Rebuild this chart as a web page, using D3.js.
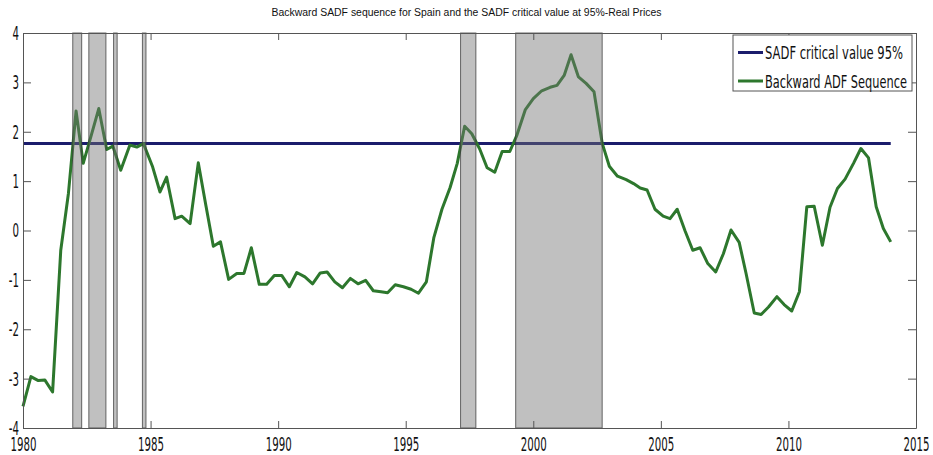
<!DOCTYPE html>
<html>
<head>
<meta charset="utf-8">
<script src="https://cdn.jsdelivr.net/npm/d3@7"></script>
<style>
  html, body { margin: 0; padding: 0; background: #fff; }
  svg { display: block; }
  .lbl { font-family: "Liberation Sans Narrow", "DejaVu Sans Condensed", "Liberation Sans", sans-serif; }
</style>
</head>
<body>
<div id="chart"></div>
<script>
var title = "Backward SADF sequence for Spain and the SADF critical value at 95%-Real Prices";

// observation dates (decimal years) and backward ADF values
var dates = [
  1980.00, 1980.31, 1980.60, 1980.86, 1981.16, 1981.48, 1981.78, 1982.08, 1982.36, 1982.65,
  1982.97, 1983.28, 1983.52, 1983.83, 1984.19, 1984.46, 1984.72, 1985.08, 1985.37, 1985.63,
  1985.96, 1986.22, 1986.55, 1986.87, 1987.17, 1987.46, 1987.74, 1988.06, 1988.38, 1988.66,
  1988.95, 1989.26, 1989.55, 1989.85, 1990.14, 1990.44, 1990.73, 1991.05, 1991.35, 1991.65,
  1991.92, 1992.22, 1992.52, 1992.83, 1993.13, 1993.43, 1993.73, 1994.03, 1994.29, 1994.59,
  1994.91, 1995.21, 1995.50, 1995.81, 1996.10, 1996.42, 1996.74, 1997.02, 1997.31, 1997.59,
  1997.90, 1998.19, 1998.49, 1998.78, 1999.08, 1999.35, 1999.69, 2000.00, 2000.33, 2000.66,
  2000.93, 2001.21, 2001.48, 2001.77, 2002.07, 2002.38, 2002.70, 2002.98, 2003.30, 2003.64,
  2003.93, 2004.19, 2004.46, 2004.77, 2005.09, 2005.36, 2005.64, 2005.95, 2006.25, 2006.54,
  2006.84, 2007.15, 2007.45, 2007.75, 2008.07, 2008.34, 2008.66, 2008.93, 2009.22, 2009.55,
  2009.83, 2010.13, 2010.43, 2010.72, 2011.01, 2011.33, 2011.63, 2011.92, 2012.22, 2012.55,
  2012.84, 2013.14, 2013.44, 2013.72, 2014.01
];
var badf = [
  -3.56, -2.96, -3.04, -3.03, -3.27, -0.40, 0.75, 2.42, 1.36, 1.88,
  2.47, 1.64, 1.71, 1.22, 1.73, 1.69, 1.76, 1.29, 0.78, 1.08,
  0.24, 0.29, 0.14, 1.37, 0.50, -0.32, -0.23, -0.99, -0.87, -0.87,
  -0.35, -1.09, -1.09, -0.91, -0.91, -1.14, -0.85, -0.94, -1.08, -0.86,
  -0.84, -1.04, -1.16, -0.97, -1.08, -1.01, -1.22, -1.24, -1.26, -1.10,
  -1.14, -1.19, -1.27, -1.04, -0.15, 0.43, 0.87, 1.36, 2.11, 1.96,
  1.65, 1.27, 1.18, 1.60, 1.60, 1.92, 2.45, 2.67, 2.83, 2.90,
  2.94, 3.14, 3.56, 3.11, 2.98, 2.81, 1.77, 1.30, 1.10, 1.03,
  0.95, 0.86, 0.82, 0.43, 0.29, 0.24, 0.43, -0.01, -0.40, -0.35,
  -0.67, -0.84, -0.47, 0.01, -0.24, -0.87, -1.67, -1.70, -1.55, -1.34,
  -1.50, -1.63, -1.24, 0.48, 0.49, -0.30, 0.47, 0.85, 1.04, 1.36,
  1.66, 1.47, 0.48, 0.04, -0.23
];
var critValue = 1.76;

// episodes (start, end) shaded in grey
var bandStarts = [1981.95, 1982.58, 1983.55, 1984.68, 1997.15, 1999.31];
var bandEnds   = [1982.30, 1983.25, 1983.69, 1984.82, 1997.75, 2002.70];

var xTicks = [1980, 1985, 1990, 1995, 2000, 2005, 2010, 2015];
var yTicks = [-4, -3, -2, -1, 0, 1, 2, 3, 4];
var legendLabels = ["SADF critical value 95%", "Backward ADF Sequence"];

var W = 933, H = 455,
    LEFT = 23, RIGHT = 916, TOP = 33, BOTTOM = 428,
    BLUE = "#1b1c6c", GREEN = "#2d772d";

var svg = d3.select("#chart").append("svg").attr("width", W).attr("height", H);
svg.append("rect").attr("width", W).attr("height", H).attr("fill", "#fff");

var x = d3.scaleLinear().domain([1980, 2015]).range([LEFT, RIGHT]);
var y = d3.scaleLinear().domain([-4, 4]).range([BOTTOM, TOP]);

// critical value line
svg.append("line")
  .attr("x1", x(dates[0])).attr("x2", x(dates[dates.length - 1]))
  .attr("y1", y(critValue)).attr("y2", y(critValue))
  .attr("stroke", BLUE).attr("stroke-width", 3);

// backward ADF sequence
var line = d3.line().x(function(d, i) { return x(dates[i]); }).y(function(d) { return y(d); });
svg.append("path").datum(badf)
  .attr("d", line)
  .attr("fill", "none")
  .attr("stroke", GREEN)
  .attr("stroke-width", 3)
  .attr("stroke-linejoin", "round");

// shaded episodes sit over the lines, semi transparent
svg.append("g").selectAll("rect").data(bandStarts).enter().append("rect")
  .attr("x", function(d) { return x(d); })
  .attr("width", function(d, i) { return x(bandEnds[i]) - x(d); })
  .attr("y", y(4)).attr("height", y(-4) - y(4))
  .attr("fill", "rgb(115,115,115)").attr("fill-opacity", 0.45)
  .attr("stroke", "#3a3a3a").attr("stroke-opacity", 0.75).attr("stroke-width", 1);

// axes, ticks pointing inward
var fmt = function(d) { return String(d); };
svg.append("g").attr("transform", "translate(0," + BOTTOM + ")")
  .call(d3.axisBottom(x).tickValues(xTicks).tickFormat(fmt).tickSizeInner(-7).tickSizeOuter(0).tickPadding(9));
svg.append("g").attr("transform", "translate(" + LEFT + ",0)")
  .call(d3.axisLeft(y).tickValues(yTicks).tickFormat(fmt).tickSizeInner(-8).tickSizeOuter(0).tickPadding(4));
svg.append("g").attr("transform", "translate(0," + TOP + ")")
  .call(d3.axisTop(x).tickValues(xTicks).tickFormat("").tickSizeInner(-7).tickSizeOuter(0));
svg.append("g").attr("transform", "translate(" + RIGHT + ",0)")
  .call(d3.axisRight(y).tickValues(yTicks).tickFormat("").tickSizeInner(-8).tickSizeOuter(0));

svg.selectAll(".domain").attr("stroke", "#555");
svg.selectAll(".tick line").attr("stroke", "#555");

var ticksText = svg.selectAll(".tick text")
  .attr("class", "lbl").attr("font-size", 20).attr("fill", "#111")
  .attr("font-family", null);

// squeeze tick labels to the narrow look of the original
var probe = svg.append("text").attr("class", "lbl").attr("font-size", 20).text("1985");
var k = 26 / probe.node().getComputedTextLength();
probe.remove();
ticksText.each(function() {
  d3.select(this)
    .attr("textLength", this.getComputedTextLength() * k)
    .attr("lengthAdjust", "spacingAndGlyphs");
});

// title
svg.append("text")
  .attr("x", W / 2).attr("y", 16)
  .attr("text-anchor", "middle")
  .attr("font-family", "Liberation Sans, Arial, sans-serif")
  .attr("font-size", 10)
  .attr("fill", "#111")
  .attr("textLength", 390).attr("lengthAdjust", "spacingAndGlyphs")
  .text(title);

// legend
var legend = svg.append("g");
legend.append("rect")
  .attr("x", 733).attr("y", 35).attr("width", 179).attr("height", 56)
  .attr("fill", "#fff").attr("stroke", "#555").attr("stroke-width", 1);
var legendColors = [BLUE, GREEN];
var legendWidths = [138, 142];
var rows = legend.selectAll("g.row").data(legendLabels).enter().append("g")
  .attr("class", "row")
  .attr("transform", function(d, i) { return "translate(738," + (52.5 + i * 28.5) + ")"; });
rows.append("line")
  .attr("x1", 0).attr("x2", 25)
  .attr("stroke", function(d, i) { return legendColors[i]; })
  .attr("stroke-width", 3);
rows.append("text")
  .attr("class", "lbl")
  .attr("x", 27).attr("y", 6.5)
  .attr("font-size", 18).attr("fill", "#111")
  .attr("textLength", function(d, i) { return legendWidths[i]; })
  .attr("lengthAdjust", "spacingAndGlyphs")
  .text(function(d) { return d; });
</script>
</body>
</html>
